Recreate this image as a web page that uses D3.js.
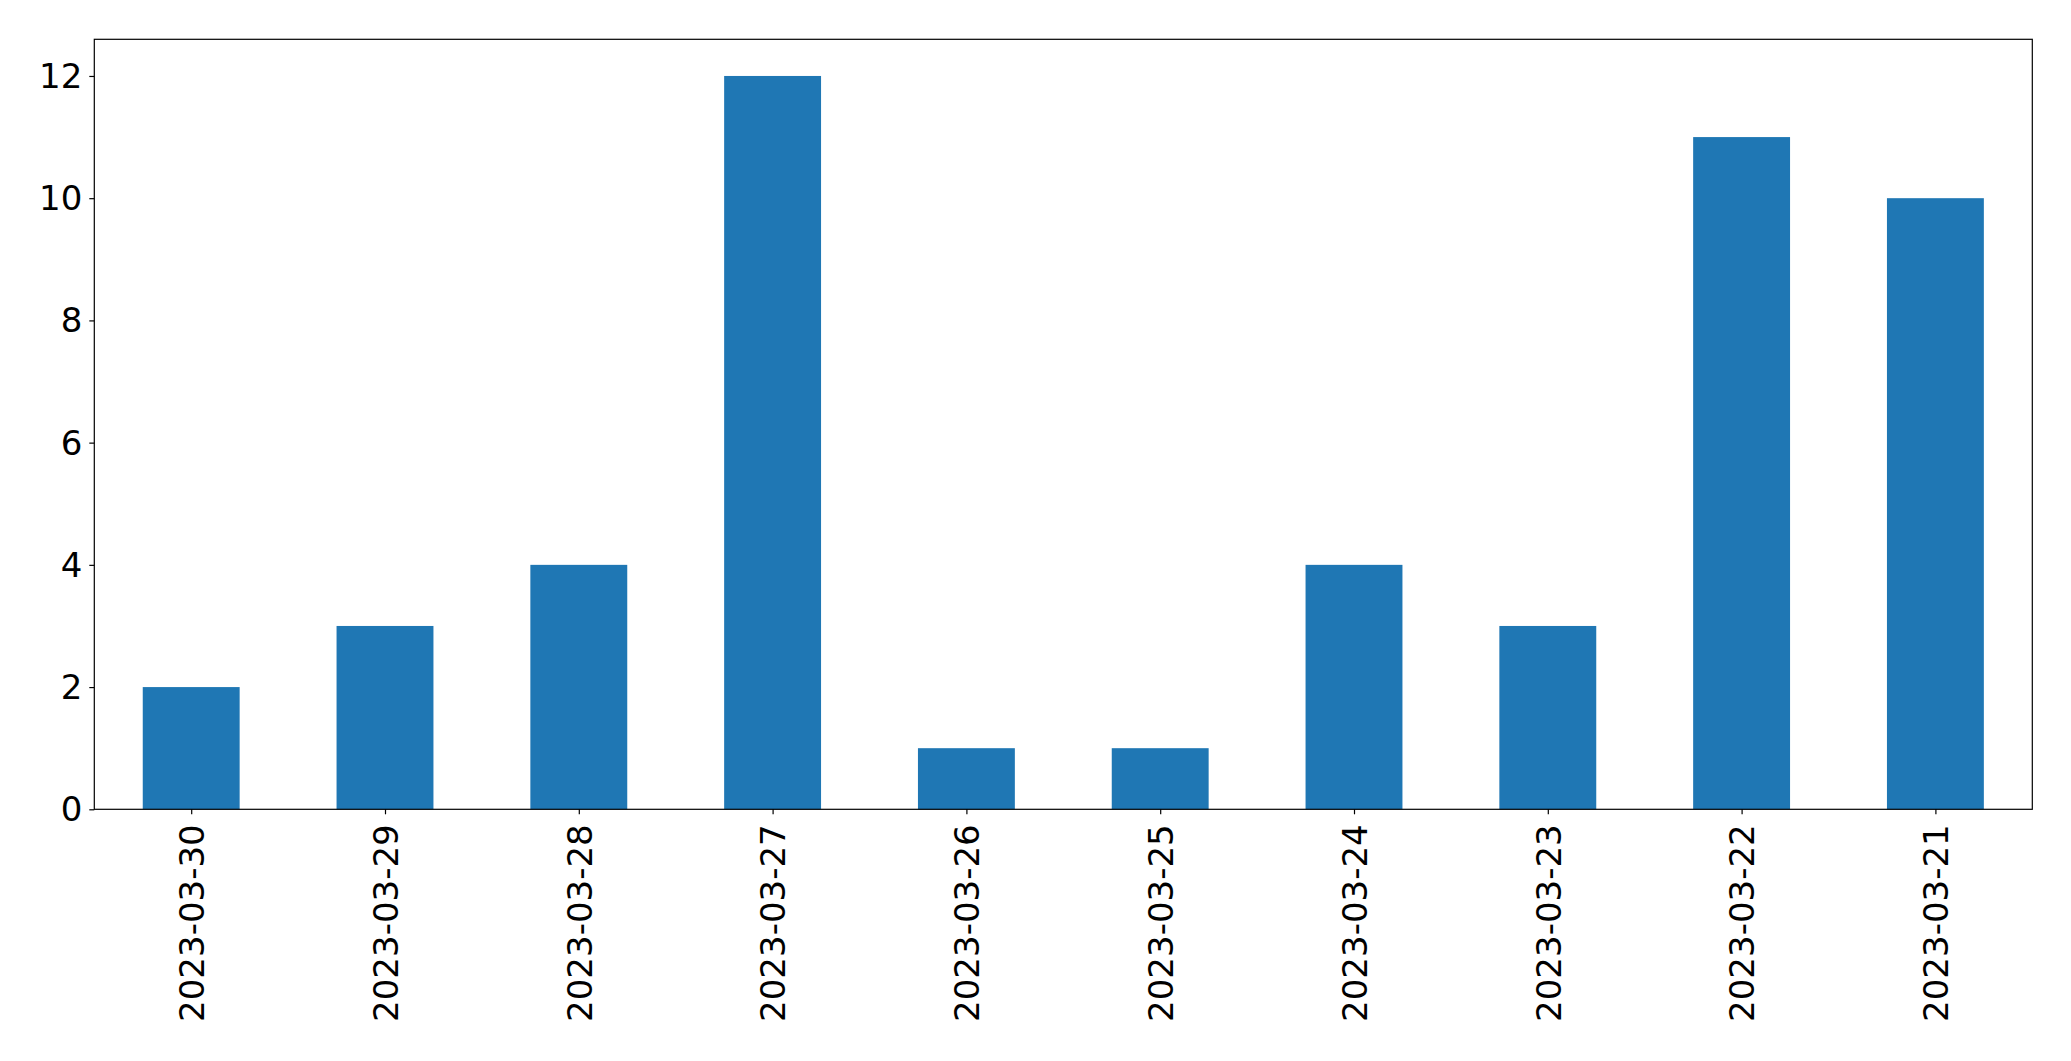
<!DOCTYPE html>
<html>
<head>
<meta charset="utf-8">
<script src="https://cdn.jsdelivr.net/npm/d3@7"></script>
<style>
  html, body { margin: 0; padding: 0; background: #fff; }
  svg { display: block; }
  text { font-family: "DejaVu Sans", sans-serif; }
</style>
</head>
<body>
<script>
const categories = ["2023-03-30","2023-03-29","2023-03-28","2023-03-27","2023-03-26","2023-03-25","2023-03-24","2023-03-23","2023-03-22","2023-03-21"];
const values = [2, 3, 4, 12, 1, 1, 4, 3, 11, 10];
const yTicks = [0, 2, 4, 6, 8, 10, 12];

(function () {
const W = 2071, H = 1061;
const mLeft = 94.3, mRight = 2032.3, mTop = 39.3, mBottom = 809.3;
const fontSize = 34;

const svg = d3.select("body").append("svg").attr("width", W).attr("height", H);

const x = d3.scaleLinear().domain([-0.5, categories.length - 0.5]).range([mLeft, mRight]);
const y = d3.scaleLinear().domain([0, 12.6]).range([mBottom, mTop]);
const barW = 0.5;

svg.append("g").selectAll("rect").data(values).join("rect")
  .attr("x", (d, i) => x(i - barW / 2))
  .attr("width", (d, i) => x(i + barW / 2) - x(i - barW / 2))
  .attr("y", d => y(d))
  .attr("height", d => y(0) - y(d))
  .attr("fill", "#1f77b4");

// axes frame
svg.append("rect")
  .attr("x", mLeft).attr("y", mTop)
  .attr("width", mRight - mLeft).attr("height", mBottom - mTop)
  .attr("fill", "none").attr("stroke", "#000").attr("stroke-width", 1.2);

// y axis
const yAxis = d3.axisLeft(y).tickValues(yTicks).tickSize(5).tickPadding(7).tickFormat(d3.format("d"));
const gy = svg.append("g").attr("transform", `translate(${mLeft},0)`).call(yAxis);
gy.select(".domain").remove();
gy.selectAll(".tick line").attr("stroke", "#000").attr("stroke-width", 1.2);
gy.selectAll(".tick text").attr("font-size", fontSize).attr("font-family", "DejaVu Sans").attr("fill", "#000").attr("dy", "0.34em");

// x axis
const xAxis = d3.axisBottom(x).tickValues(d3.range(categories.length)).tickSize(5).tickFormat(i => categories[i]);
const gx = svg.append("g").attr("transform", `translate(0,${mBottom})`).call(xAxis);
gx.select(".domain").remove();
gx.selectAll(".tick line").attr("stroke", "#000").attr("stroke-width", 1.2);
gx.selectAll(".tick text")
  .attr("font-size", fontSize).attr("font-family", "DejaVu Sans").attr("fill", "#000")
  .attr("text-anchor", "end")
  .attr("transform", "rotate(-90)")
  .attr("x", -15).attr("y", 0).attr("dy", "0.36em");
})();
</script>
</body>
</html>
